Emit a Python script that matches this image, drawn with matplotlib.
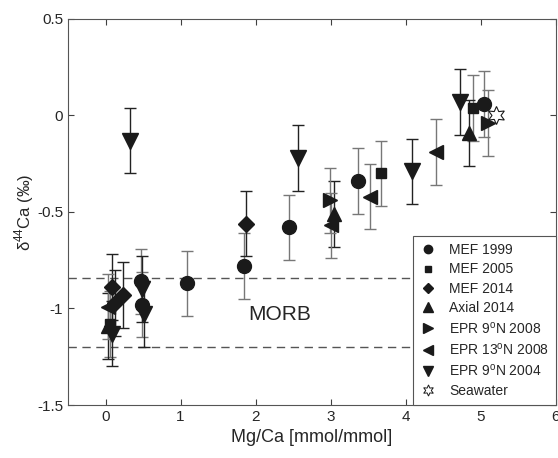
import matplotlib
matplotlib.use("Agg")
import matplotlib.pyplot as plt
from matplotlib.lines import Line2D

plt.rcParams["font.family"] = ["Liberation Sans", "DejaVu Sans"]
plt.rcParams["mathtext.fontset"] = "custom"
plt.rcParams["mathtext.rm"] = "Liberation Sans"

# Mg/Ca [mmol/mmol] and d44Ca (permil) per data set
mef1999_x = [0.47, 0.49, 1.08, 1.84, 2.44, 3.37, 5.04]
mef1999_y = [-0.86, -0.98, -0.87, -0.78, -0.58, -0.34, 0.06]
mef2005_x = [0.06, 3.67, 4.90]
mef2005_y = [-1.08, -0.30, 0.04]
mef2014_x = [0.08, 0.23, 0.12, 1.87]
mef2014_y = [-0.89, -0.93, -0.97, -0.56]
axial2014_x = [0.03, 3.04, 4.85]
axial2014_y = [-1.09, -0.51, -0.09]
epr9n2008_x = [2.99, 5.10]
epr9n2008_y = [-0.44, -0.04]
epr13n2008_x = [0.03, 3.00, 3.53, 4.40]
epr13n2008_y = [-0.99, -0.57, -0.42, -0.19]
epr9n2004_x = [0.32, 0.08, 0.49, 0.51, 2.56, 4.08, 4.73]
epr9n2004_y = [-0.13, -1.13, -0.90, -1.03, -0.22, -0.29, 0.07]
seawater_x = [5.21]
seawater_y = [0.0]
err = 0.17
morb_lo, morb_hi = -1.20, -0.84

series = [
    ("MEF 1999", mef1999_x, mef1999_y, "o", 10, 6, "#777777"),
    ("MEF 2005", mef2005_x, mef2005_y, "s", 7.5, 5, "#777777"),
    ("MEF 2014", mef2014_x, mef2014_y, "D", 8, 5.5, "#222222"),
    ("Axial 2014", axial2014_x, axial2014_y, "^", 10, 6.5, "#222222"),
    ("EPR 9$^{\\mathrm{o}}$N 2008", epr9n2008_x, epr9n2008_y, ">", 10, 6.5, "#777777"),
    ("EPR 13$^{\\mathrm{o}}$N 2008", epr13n2008_x, epr13n2008_y, "<", 10, 6.5, "#777777"),
    ("EPR 9$^{\\mathrm{o}}$N 2004", epr9n2004_x, epr9n2004_y, "v", 11, 6.5, "#222222"),
]

fig = plt.figure(figsize=(5.58, 4.58), dpi=100)
ax = fig.add_axes([0.122, 0.1157, 0.874, 0.843])

ax.axhline(morb_hi, color="#555555", ls=(0, (6, 4)), lw=1.0, zorder=1)
ax.axhline(morb_lo, color="#555555", ls=(0, (6, 4)), lw=1.0, zorder=1)
ax.text(1.9, -1.03, "MORB", fontsize=15, color="#262626", va="center", ha="left")

handles = []
for label, xs, ys, mk, ms, lms, ecol in series:
    ax.errorbar(xs, ys, yerr=err, fmt=mk, ms=ms, color="#1a1a1a", mec="#1a1a1a",
                ecolor=ecol, elinewidth=1.0, capsize=4, capthick=1.0, zorder=3)
    handles.append(Line2D([], [], ls="none", marker=mk, ms=lms, color="#1a1a1a", label=label))

ax.plot(seawater_x, seawater_y, ls="none", marker=(6, 1, 0), ms=13, mfc="white",
        mec="#1a1a1a", mew=0.8, zorder=4)
handles.append(Line2D([], [], ls="none", marker=(6, 1, 0), ms=8, mfc="white",
                      mec="#1a1a1a", mew=0.7, label="Seawater"))

ax.set_xlim(-0.5, 6)
ax.set_ylim(-1.5, 0.5)
ax.set_xticks([0, 1, 2, 3, 4, 5, 6])
ax.set_xticklabels(["0", "1", "2", "3", "4", "5", "6"])
ax.set_yticks([-1.5, -1, -0.5, 0, 0.5])
ax.set_yticklabels(["-1.5", "-1", "-0.5", "0", "0.5"])
ax.tick_params(direction="in", top=True, right=True, length=4, width=0.8,
               labelsize=11, colors="#404040", labelcolor="#262626")
for s in ax.spines.values():
    s.set_color("#555555")
    s.set_linewidth(0.8)
ax.set_xlabel("Mg/Ca [mmol/mmol]", fontsize=13, color="#262626")
ax.set_ylabel("δ$^{44}$Ca (‰)", fontsize=12, color="#262626", labelpad=1)

leg = ax.legend(handles=handles, loc="lower right", borderaxespad=0, fontsize=10,
                handlelength=1.2, handletextpad=0.9, labelspacing=0.38, fancybox=False,
                framealpha=1, edgecolor="#555555", borderpad=0.5)
leg.get_frame().set_linewidth(0.8)
for t in leg.get_texts():
    t.set_color("#262626")
for t in ax.get_xticklabels():
    t.set_zorder(10)

fig.savefig("out.png", dpi=100)
